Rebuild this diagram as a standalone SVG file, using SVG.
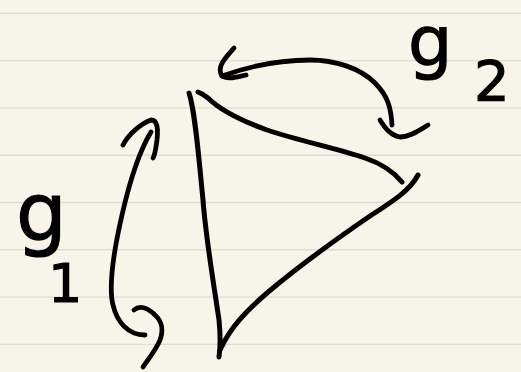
<svg xmlns="http://www.w3.org/2000/svg" width="521" height="372" viewBox="0 0 521 372">
<style>
.rule{stroke:#dcdbd6;stroke-width:1.4;fill:none}
.ink{stroke:#000;stroke-width:4.8;fill:none;stroke-linecap:round;stroke-linejoin:round}
.edge{stroke-width:5}
.lbl{font-family:"DejaVu Sans",sans-serif;fill:#000;stroke:#000;stroke-width:1.2}
</style>
<rect width="521" height="372" fill="#f7f5e9"/>
<g id="paper-lines">
<line class="rule" x1="0" y1="13.3" x2="521" y2="13.3"/>
<line class="rule" x1="0" y1="60.6" x2="521" y2="60.6"/>
<line class="rule" x1="0" y1="107.9" x2="521" y2="107.9"/>
<line class="rule" x1="0" y1="155.2" x2="521" y2="155.2"/>
<line class="rule" x1="0" y1="202.5" x2="521" y2="202.5"/>
<line class="rule" x1="0" y1="249.8" x2="521" y2="249.8"/>
<line class="rule" x1="0" y1="297.1" x2="521" y2="297.1"/>
<line class="rule" x1="0" y1="344.4" x2="521" y2="344.4"/>
</g>
<g id="triangle">
<path class="ink edge" d="M189,93 C195,110 199,160 203,200 C206,240 214,285 219,320 C221,340 220,350 219,357"/>
<path class="ink edge" d="M198,92 C203,94 205,96 208,98 C222,112 245,122 267,130 C300,141 335,148 365,158 C380,163 392,170 402,182"/>
<path class="ink edge" d="M418,175 C410,190 395,200 370,216 C335,240 300,265 267,293 C245,312 230,328 220,350"/>
</g>
<g id="connectors">
<g id="arrow-g2">
<path class="ink" d="M392,125 C391,108 388,96 375,83 C360,68 335,60 310,60 C280,60 250,66 222,76"/>
<path class="ink" d="M234,48 C226,57 216,67 222,76 C227,80 238,77 246,75"/>
<path class="ink" d="M380,120 C385,128 390,135 400,137 C410,137 420,130 428,125"/>
</g>
<g id="arrow-g1">
<path class="ink" d="M151,132 C140,150 130,180 122,215 C114,250 108,285 113,305 C117,322 128,335 145,335"/>
<path class="ink" d="M123,145 C128,135 140,124 151,120 C158,120 158,130 157,140 C156,148 155,155 153,158"/>
<path class="ink" d="M134,310 C140,305 148,308 155,315 C163,322 163,332 160,340 C156,350 149,358 143,367"/>
</g>
</g>
<g id="label-g2">
<text class="lbl" x="408" y="66" font-size="70">g</text>
<text class="lbl" x="474" y="100" font-size="56">2</text>
</g>
<g id="label-g1">
<text class="lbl" x="16" y="240" font-size="80">g</text>
<text class="lbl" x="48" y="302" font-size="54">1</text>
</g>
</svg>
